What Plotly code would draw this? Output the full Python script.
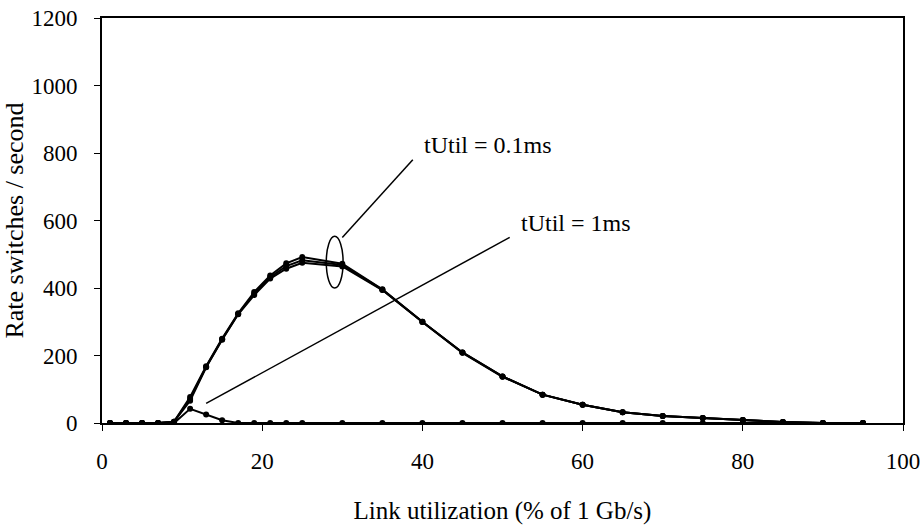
import plotly.graph_objects as go

# Link utilization (% of 1 Gb/s) at which each run was sampled
utilization = [1, 3, 5, 7, 9, 11, 13, 15, 17, 19, 21, 23, 25, 30, 35,
               40, 45, 50, 55, 60, 65, 70, 75, 80, 85, 90, 95]

# Rate switches per second, tUtil = 0.1 ms (three runs)
switches_01ms_a = [0, 0, 0, 0, 4, 77, 168, 250, 325, 388, 437, 473, 492, 472, 396,
                   300, 209, 138, 84, 54, 32, 21, 15, 9, 3, 0, 0]
switches_01ms_b = [0, 0, 0, 0, 4, 71, 166, 248, 323, 383, 432, 465, 482, 468, 395,
                   300, 209, 138, 84, 54, 32, 21, 15, 9, 3, 0, 0]
switches_01ms_c = [0, 0, 0, 0, 4, 66, 165, 247, 322, 379, 428, 457, 475, 464, 394,
                   299, 208, 137, 84, 54, 32, 21, 15, 9, 3, 0, 0]

# Rate switches per second, tUtil = 1 ms
switches_1ms = [0, 0, 0, 0, 0, 42, 25, 8, 0, 0, 0, 0, 0, 0, 0,
                0, 0, 0, 0, 0, 0, 0, 0, 0, 0, 0, 0]

x_ticks = [0, 20, 40, 60, 80, 100]
y_ticks = [0, 200, 400, 600, 800, 1000, 1200]

FONT = "Liberation Serif"
TICK_SIZE = 23
NOTE_SIZE = 24

fig = go.Figure()
for ys in (switches_01ms_a, switches_01ms_b, switches_01ms_c, switches_1ms):
    fig.add_trace(go.Scatter(
        x=utilization, y=ys, mode="lines+markers",
        line=dict(color="black", width=2),
        marker=dict(color="black", size=6),
        showlegend=False,
    ))

# Callout for the tUtil = 0.1 ms group
fig.add_shape(type="circle", xref="x", yref="y",
              x0=28.0, x1=30.1, y0=400, y1=553,
              line=dict(color="black", width=1.5))
fig.add_shape(type="line", xref="x", yref="y",
              x0=30.0, y0=550, x1=38.8, y1=780,
              line=dict(color="black", width=1.5))
fig.add_annotation(x=40.0, y=825, xref="x", yref="y", text="tUtil = 0.1ms",
                   showarrow=False, xanchor="left", yanchor="middle",
                   font=dict(family=FONT, size=NOTE_SIZE, color="black"))

# Callout for the tUtil = 1 ms curve
fig.add_shape(type="line", xref="x", yref="y",
              x0=13.0, y0=58, x1=50.9, y1=550,
              line=dict(color="black", width=1.5))
fig.add_annotation(x=52.0, y=594, xref="x", yref="y", text="tUtil = 1ms",
                   showarrow=False, xanchor="left", yanchor="middle",
                   font=dict(family=FONT, size=NOTE_SIZE, color="black"))

axis_common = dict(
    showgrid=False, zeroline=False, automargin=False,
    showline=True, linecolor="black", linewidth=2, mirror=True,
    ticks="outside", ticklen=6, tickcolor="black", tickwidth=1,
    tickfont=dict(family=FONT, size=TICK_SIZE, color="black"),
)

fig.update_xaxes(range=[0, 100], tickvals=x_ticks,
                 title=dict(text="Link utilization (% of 1 Gb/s)",
                            font=dict(family=FONT, size=25, color="black"),
                            standoff=35),
                 ticklabelstandoff=10,
                 **axis_common)
fig.update_yaxes(range=[0, 1200], tickvals=y_ticks,
                 title=dict(text="Rate switches / second",
                            font=dict(family=FONT, size=26, color="black"),
                            standoff=0),
                 ticklabelstandoff=12,
                 **axis_common)

fig.update_layout(
    width=924, height=525,
    margin=dict(l=102, r=21, t=18, b=102),
    paper_bgcolor="white", plot_bgcolor="white",
    font=dict(family=FONT, color="black"),
)

fig.write_html("out.html")
